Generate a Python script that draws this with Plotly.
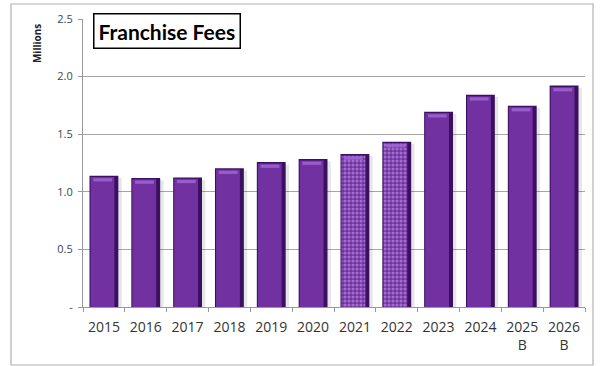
import plotly.graph_objects as go

# Franchise fee revenue by year (millions); B = budget
years = ["2015", "2016", "2017", "2018", "2019", "2020", "2021", "2022",
         "2023", "2024", "2025<br>B", "2026<br>B"]
fees = [1.14, 1.12, 1.125, 1.205, 1.258, 1.284, 1.328, 1.435,
        1.695, 1.842, 1.748, 1.922]
patterned = [False] * 6 + [True, True] + [False] * 4

ytick_vals = [0, 0.5, 1.0, 1.5, 2.0, 2.5]
ytick_text = ["-", "0.5", "1.0", "1.5", "2.0", "2.5"]

PURPLE = "#7131a1"
DARK = "#3c1060"
LIGHT = "#a064d4"
BAR_W = 0.69
n = len(years)

fig = go.Figure()

# soft drop shadow to the right of each bar
fig.add_trace(go.Bar(
    x=years, y=[v - 0.02 for v in fees],
    width=[BAR_W] * n, offset=[-BAR_W / 2 + 0.08] * n,
    marker=dict(color="rgba(60,60,60,0.13)", line=dict(width=0)),
    hoverinfo="skip", showlegend=False))

# dark bar body (edges)
fig.add_trace(go.Bar(
    x=years, y=fees,
    width=[BAR_W] * n, offset=[-BAR_W / 2] * n,
    marker=dict(color=DARK, line=dict(width=0)),
    hoverinfo="skip", showlegend=False))

# front face, checkered for 2021-2022
fig.add_trace(go.Bar(
    x=years, y=[v - 0.012 for v in fees],
    width=[BAR_W - 0.12] * n, offset=[-BAR_W / 2 + 0.025] * n,
    marker=dict(
        color=PURPLE, line=dict(width=0),
        pattern=dict(
            shape=["." if p else "" for p in patterned],
            fgcolor="#d2aef2", bgcolor=PURPLE, size=4, solidity=0.5,
        ),
    ),
    hoverinfo="skip", showlegend=False))

# bevelled top highlight
fig.add_trace(go.Bar(
    x=years, y=[0.028] * n, base=[v - 0.05 for v in fees],
    width=[BAR_W - 0.24] * n, offset=[-BAR_W / 2 + 0.09] * n,
    marker=dict(color=LIGHT, line=dict(width=0)),
    opacity=0.85,
    hoverinfo="skip", showlegend=False))

# outer chart frame
fig.add_shape(type="rect", xref="paper", yref="paper",
              x0=-0.1434, x1=1.016, y0=-0.2014, y1=1.052,
              line=dict(color="#b0b0b0", width=1.2), fillcolor="rgba(0,0,0,0)",
              layer="below")

fig.add_annotation(
    text="<b>Franchise Fees</b>", xref="paper", yref="paper",
    x=0.02, y=1.021, xanchor="left", yanchor="top", showarrow=False,
    font=dict(family="Lato", size=21, color="#000"),
    bordercolor="#000", borderwidth=1.5, borderpad=4, bgcolor="white")

fig.add_annotation(
    text="<b>Millions</b>", xref="paper", yref="paper",
    x=-0.0916, y=0.913, xanchor="center", yanchor="middle",
    textangle=-90, showarrow=False,
    font=dict(family="Open Sans", size=10, color="#222"))

fig.update_layout(
    width=601, height=366,
    margin=dict(l=83, r=16, t=19, b=59),
    paper_bgcolor="white", plot_bgcolor="white",
    barmode="overlay",
    font=dict(family="Open Sans", color="#333"),
    xaxis=dict(
        type="category", tickson="boundaries", ticks="outside",
        ticklen=4, tickcolor="#999", showline=True, linecolor="#999",
        linewidth=1, showgrid=False, ticklabelstandoff=7,
        tickfont=dict(size=14, color="#333"),
    ),
    yaxis=dict(
        range=[0, 2.5], tickvals=ytick_vals, ticktext=ytick_text,
        ticks="outside", ticklen=4, tickcolor="#999",
        showline=True, linecolor="#999", linewidth=1,
        showgrid=True, gridcolor="#a6a6a6", gridwidth=1,
        zeroline=False, ticklabelstandoff=3,
        tickfont=dict(size=11, color="#444"),
    ),
)

fig.write_html("out.html")
